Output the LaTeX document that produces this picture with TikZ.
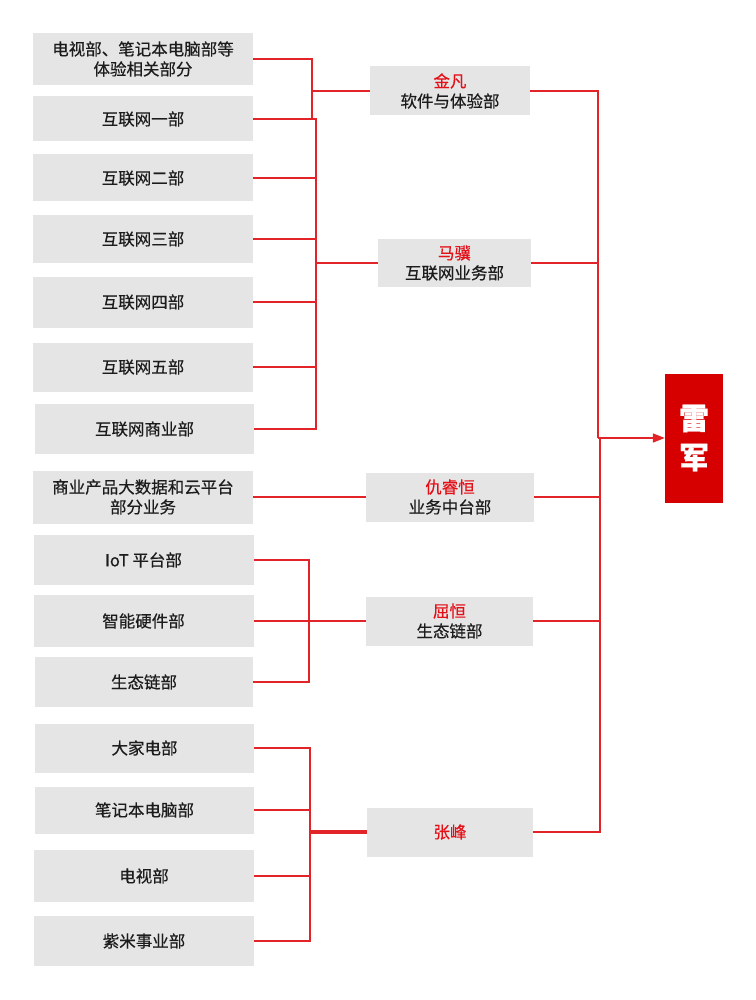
\documentclass[tikz,border=0pt]{standalone}
\usepackage{fontspec}
\setmainfont{Noto Sans CJK SC}[FakeBold=0.45]
\usetikzlibrary{arrows.meta}
\definecolor{linkred}{RGB}{226,36,40}
\definecolor{namered}{RGB}{228,16,24}
\definecolor{boxgray}{RGB}{229,229,229}
\definecolor{bossred}{RGB}{214,0,0}
\definecolor{txt}{RGB}{28,28,28}
\begin{document}
\begin{tikzpicture}[x=1pt,y=-1pt,
  dept/.style={rectangle,fill=boxgray,inner sep=0pt,align=center,text=txt,
    font=\fontsize{16.5}{20}\selectfont,minimum width=220pt},
  head/.style={rectangle,fill=boxgray,inner sep=0pt,align=center,text=txt,
    font=\fontsize{16.5}{20}\selectfont,minimum height=49pt},
  boss/.style={rectangle,fill=bossred,inner sep=0pt,align=center,text=white,
    font=\fontsize{30}{39}\selectfont\bfseries,minimum width=58pt,minimum height=129pt},
  link/.style={draw=linkred,line width=1.5pt},
  nm/.style={text=namered}]
\useasboundingbox (0,0) rectangle (755,1000);
% left departments
\node[dept,minimum height=52pt] (b1) at (143,59) {电视部、笔记本电脑部等\\体验相关部分};
\node[dept,minimum height=45pt] (b2) at (143,119) {互联网一部};
\node[dept,minimum height=47pt] (b3) at (143,178) {互联网二部};
\node[dept,minimum height=48pt] (b4) at (143,239) {互联网三部};
\node[dept,minimum height=51pt] (b5) at (143,302) {互联网四部};
\node[dept,minimum height=49pt] (b6) at (143,367) {互联网五部};
\node[dept,minimum height=50pt,minimum width=219pt] (b7) at (144.5,429) {互联网商业部};
\node[dept,minimum height=53pt] (b8) at (143,497) {商业产品大数据和云平台\\部分业务};
\node[dept,minimum height=50pt] (b9) at (143.5,560) {IoT 平台部};
\node[dept,minimum height=52pt] (b10) at (143.5,621) {智能硬件部};
\node[dept,minimum height=50pt,minimum width=218pt] (b11) at (144,682) {生态链部};
\node[dept,minimum height=49pt,minimum width=219pt] (b12) at (144.5,748) {大家电部};
\node[dept,minimum height=47pt,minimum width=219pt] (b13) at (144.5,810) {笔记本电脑部};
\node[dept,minimum height=52pt,minimum width=220pt] (b14) at (144,876) {电视部};
\node[dept,minimum height=50pt,minimum width=220pt] (b15) at (144,941) {紫米事业部};
% heads
\node[head,minimum width=160pt] (jf) at (450,91) {\textcolor{namered}{金凡}\\软件与体验部};
\node[head,minimum width=153pt,minimum height=48pt] (mj) at (454.5,263) {\textcolor{namered}{马骥}\\互联网业务部};
\node[head,minimum width=168pt] (qrh) at (450,497) {\textcolor{namered}{仇睿恒}\\业务中台部};
\node[head,minimum width=167pt] (qh) at (449.5,621) {\textcolor{namered}{屈恒}\\生态链部};
\node[head,minimum width=166pt] (zf) at (450,832) {\textcolor{namered}{张峰}};
% boss
\node[boss] (lj) at (694,438) {雷\\军};
% bus coordinates
\coordinate (busA) at (312,0);
\coordinate (busB) at (316,0);
\coordinate (busC) at (309,0);
\coordinate (busD) at (310,0);
\coordinate (busR) at (598,0);
\coordinate (busS) at (600,0);
% 金凡 group
\draw[link] (b1.east) -| (busA |- b2.east);
\draw[link] (busA |- jf.west) -- (jf.west);
% 马骥 group
\draw[link] (b2.east) -| (busB |- b7.east) -- (b7.east);
\foreach \b in {b3,b4,b5,b6}{\draw[link] (\b.east) -- (busB |- \b.east);}
\draw[link] (busB |- mj.west) -- (mj.west);
% 仇睿恒
\draw[link] (b8.east) -- (qrh.west);
% 屈恒 group
\draw[link] (b9.east) -| (busC |- b11.east) -- (b11.east);
\draw[link] (b10.east) -- (qh.west);
% 张峰 group
\draw[link] (b12.east) -| (busD |- b15.east) -- (b15.east);
\draw[link] (b13.east) -- (busD |- b13.east);
\draw[link] (b14.east) -- (busD |- b14.east);
\draw[link] ([yshift=-1.2pt]busD |- zf.west) -- ([yshift=-1.2pt]zf.west);
\draw[link] ([yshift=1.2pt]busD |- zf.west) -- ([yshift=1.2pt]zf.west);
% right side
\draw[link] (jf.east) -| (busR |- lj.west);
\draw[link] (mj.east) -- (busR |- mj.east);
\draw[link,-{Triangle[length=12pt,width=9pt]}] (busR |- lj.west) -- (lj.west);
\draw[link] (zf.east) -| (busS |- lj.west);
\draw[link] (qrh.east) -- (busS |- qrh.east);
\draw[link] (qh.east) -- (busS |- qh.east);
\end{tikzpicture}
\end{document}
